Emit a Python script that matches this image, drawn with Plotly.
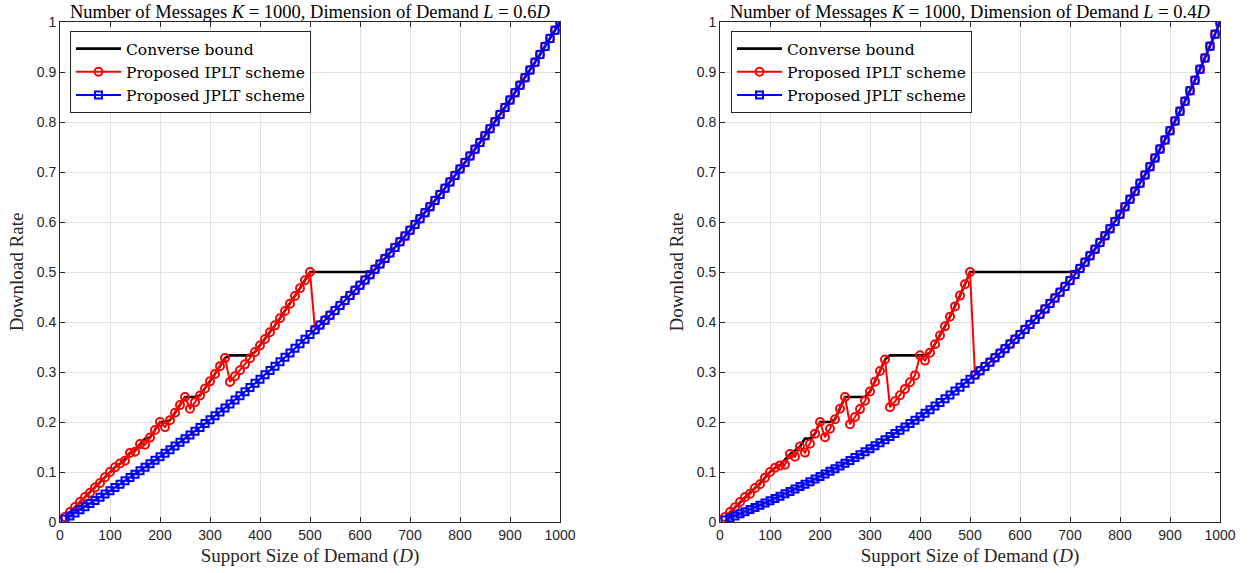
import plotly.graph_objects as go

# Support size of demand D
D = list(range(10, 1001, 10))

# ---------- L = 0.6D ----------
conv_06 = [
    0.0100, 0.0200, 0.0298, 0.0400, 0.0500, 0.0588, 0.0691, 0.0779, 0.0894, 0.1000,
    0.1093, 0.1169, 0.1250, 0.1382, 0.1429, 0.1558, 0.1667, 0.1688, 0.1839, 0.2000,
    0.2000, 0.2037, 0.2184, 0.2338, 0.2500, 0.2500, 0.2500, 0.2530, 0.2669, 0.2813,
    0.2962, 0.3117, 0.3278, 0.3333, 0.3333, 0.3333, 0.3333, 0.3333, 0.3401, 0.3529,
    0.3661, 0.3795, 0.3933, 0.4074, 0.4219, 0.4367, 0.4519, 0.4675, 0.4836, 0.5000,
    0.5000, 0.5000, 0.5000, 0.5000, 0.5000, 0.5000, 0.5000, 0.5000, 0.5000, 0.5000,
    0.5000, 0.5000, 0.5053, 0.5161, 0.5270, 0.5380, 0.5492, 0.5604, 0.5718, 0.5833,
    0.5950, 0.6067, 0.6186, 0.6307, 0.6429, 0.6552, 0.6676, 0.6802, 0.6930, 0.7059,
    0.7189, 0.7321, 0.7455, 0.7590, 0.7727, 0.7866, 0.8006, 0.8148, 0.8292, 0.8438,
    0.8585, 0.8734, 0.8885, 0.9038, 0.9194, 0.9351, 0.9510, 0.9671, 0.9834, 1.0000,
]
iplt_06 = [
    0.0100, 0.0200, 0.0298, 0.0400, 0.0500, 0.0584, 0.0691, 0.0779, 0.0894, 0.1000,
    0.1093, 0.1169, 0.1226, 0.1382, 0.1406, 0.1558, 0.1545, 0.1688, 0.1839, 0.2000,
    0.1898, 0.2037, 0.2184, 0.2338, 0.2500, 0.2267, 0.2397, 0.2530, 0.2669, 0.2813,
    0.2962, 0.3117, 0.3278, 0.2802, 0.2917, 0.3034, 0.3153, 0.3276, 0.3401, 0.3529,
    0.3661, 0.3795, 0.3933, 0.4074, 0.4219, 0.4367, 0.4519, 0.4675, 0.4836, 0.5000,
    0.3844, 0.3939, 0.4036, 0.4133, 0.4231, 0.4330, 0.4430, 0.4531, 0.4634, 0.4737,
    0.4841, 0.4947, 0.5053, 0.5161, 0.5270, 0.5380, 0.5492, 0.5604, 0.5718, 0.5833,
    0.5950, 0.6067, 0.6186, 0.6307, 0.6429, 0.6552, 0.6676, 0.6802, 0.6930, 0.7059,
    0.7189, 0.7321, 0.7455, 0.7590, 0.7727, 0.7866, 0.8006, 0.8148, 0.8292, 0.8438,
    0.8585, 0.8734, 0.8885, 0.9038, 0.9194, 0.9351, 0.9510, 0.9671, 0.9834, 1.0000,
]
jplt_06 = [
    0.0060, 0.0121, 0.0182, 0.0244, 0.0306, 0.0369, 0.0432, 0.0496, 0.0560, 0.0625,
    0.0690, 0.0756, 0.0823, 0.0890, 0.0957, 0.1026, 0.1094, 0.1164, 0.1234, 0.1304,
    0.1376, 0.1447, 0.1520, 0.1593, 0.1667, 0.1741, 0.1816, 0.1892, 0.1968, 0.2045,
    0.2123, 0.2202, 0.2281, 0.2361, 0.2442, 0.2523, 0.2606, 0.2689, 0.2773, 0.2857,
    0.2943, 0.3029, 0.3116, 0.3204, 0.3293, 0.3382, 0.3473, 0.3564, 0.3657, 0.3750,
    0.3844, 0.3939, 0.4036, 0.4133, 0.4231, 0.4330, 0.4430, 0.4531, 0.4634, 0.4737,
    0.4841, 0.4947, 0.5053, 0.5161, 0.5270, 0.5380, 0.5492, 0.5604, 0.5718, 0.5833,
    0.5950, 0.6067, 0.6186, 0.6307, 0.6429, 0.6552, 0.6676, 0.6802, 0.6930, 0.7059,
    0.7189, 0.7321, 0.7455, 0.7590, 0.7727, 0.7866, 0.8006, 0.8148, 0.8292, 0.8438,
    0.8585, 0.8734, 0.8885, 0.9038, 0.9194, 0.9351, 0.9510, 0.9671, 0.9834, 1.0000,
]

# ---------- L = 0.4D ----------
conv_04 = [
    0.0100, 0.0200, 0.0296, 0.0400, 0.0500, 0.0588, 0.0680, 0.0769, 0.0887, 0.1000,
    0.1084, 0.1132, 0.1250, 0.1359, 0.1429, 0.1509, 0.1667, 0.1667, 0.1767, 0.2000,
    0.2000, 0.2000, 0.2054, 0.2264, 0.2500, 0.2500, 0.2500, 0.2500, 0.2500, 0.2609,
    0.2805, 0.3019, 0.3251, 0.3333, 0.3333, 0.3333, 0.3333, 0.3333, 0.3333, 0.3333,
    0.3333, 0.3387, 0.3554, 0.3729, 0.3913, 0.4107, 0.4312, 0.4528, 0.4757, 0.5000,
    0.5000, 0.5000, 0.5000, 0.5000, 0.5000, 0.5000, 0.5000, 0.5000, 0.5000, 0.5000,
    0.5000, 0.5000, 0.5000, 0.5000, 0.5000, 0.5000, 0.5000, 0.5000, 0.5000, 0.5000,
    0.5000, 0.5070, 0.5196, 0.5324, 0.5455, 0.5588, 0.5725, 0.5865, 0.6008, 0.6154,
    0.6304, 0.6457, 0.6614, 0.6774, 0.6939, 0.7107, 0.7280, 0.7458, 0.7639, 0.7826,
    0.8018, 0.8214, 0.8416, 0.8624, 0.8837, 0.9057, 0.9282, 0.9515, 0.9754, 1.0000,
]
iplt_04 = [
    0.0100, 0.0200, 0.0296, 0.0400, 0.0500, 0.0566, 0.0680, 0.0755, 0.0887, 0.1000,
    0.1084, 0.1132, 0.1145, 0.1359, 0.1304, 0.1509, 0.1388, 0.1565, 0.1767, 0.2000,
    0.1694, 0.1864, 0.2054, 0.2264, 0.2500, 0.1955, 0.2101, 0.2258, 0.2427, 0.2609,
    0.2805, 0.3019, 0.3251, 0.2297, 0.2414, 0.2535, 0.2662, 0.2794, 0.2932, 0.3333,
    0.3228, 0.3387, 0.3554, 0.3729, 0.3913, 0.4107, 0.4312, 0.4528, 0.4757, 0.5000,
    0.2939, 0.3023, 0.3109, 0.3195, 0.3284, 0.3373, 0.3465, 0.3558, 0.3653, 0.3750,
    0.3849, 0.3949, 0.4051, 0.4156, 0.4262, 0.4371, 0.4482, 0.4595, 0.4710, 0.4828,
    0.4948, 0.5070, 0.5196, 0.5324, 0.5455, 0.5588, 0.5725, 0.5865, 0.6008, 0.6154,
    0.6304, 0.6457, 0.6614, 0.6774, 0.6939, 0.7107, 0.7280, 0.7458, 0.7639, 0.7826,
    0.8018, 0.8214, 0.8416, 0.8624, 0.8837, 0.9057, 0.9282, 0.9515, 0.9754, 1.0000,
]
jplt_04 = [
    0.0040, 0.0081, 0.0122, 0.0164, 0.0206, 0.0249, 0.0292, 0.0336, 0.0381, 0.0426,
    0.0471, 0.0517, 0.0564, 0.0611, 0.0659, 0.0708, 0.0757, 0.0807, 0.0858, 0.0909,
    0.0961, 0.1014, 0.1067, 0.1121, 0.1176, 0.1232, 0.1289, 0.1346, 0.1404, 0.1463,
    0.1523, 0.1584, 0.1646, 0.1709, 0.1772, 0.1837, 0.1902, 0.1969, 0.2037, 0.2105,
    0.2175, 0.2246, 0.2318, 0.2391, 0.2466, 0.2541, 0.2618, 0.2697, 0.2776, 0.2857,
    0.2939, 0.3023, 0.3109, 0.3195, 0.3284, 0.3373, 0.3465, 0.3558, 0.3653, 0.3750,
    0.3849, 0.3949, 0.4051, 0.4156, 0.4262, 0.4371, 0.4482, 0.4595, 0.4710, 0.4828,
    0.4948, 0.5070, 0.5196, 0.5324, 0.5455, 0.5588, 0.5725, 0.5865, 0.6008, 0.6154,
    0.6304, 0.6457, 0.6614, 0.6774, 0.6939, 0.7107, 0.7280, 0.7458, 0.7639, 0.7826,
    0.8018, 0.8214, 0.8416, 0.8624, 0.8837, 0.9057, 0.9282, 0.9515, 0.9754, 1.0000,
]

titles = [
    "Number of Messages <i>K</i> = 1000, Dimension of Demand <i>L</i> = 0.6<i>D</i>",
    "Number of Messages <i>K</i> = 1000, Dimension of Demand <i>L</i> = 0.4<i>D</i>",
]
names = ["Converse bound", "Proposed IPLT scheme", "Proposed JPLT scheme"]

SERIF = "Liberation Serif, DejaVu Serif, serif"
LEG_SERIF = "DejaVu Serif, Liberation Serif, serif"
SANS = "Liberation Sans, Arial, sans-serif"
AX = "#262626"

fig = go.Figure()

panels = [
    (conv_06, iplt_06, jplt_06, "x", "y", "legend"),
    (conv_04, iplt_04, jplt_04, "x2", "y2", "legend2"),
]
for conv, iplt, jplt, xa, ya, lg in panels:
    fig.add_trace(go.Scatter(
        x=D, y=conv, mode="lines", name=names[0], xaxis=xa, yaxis=ya, legend=lg,
        line=dict(color="black", width=2.6)))
    fig.add_trace(go.Scatter(
        x=D, y=iplt, mode="lines+markers", name=names[1], xaxis=xa, yaxis=ya, legend=lg,
        line=dict(color="#ff0000", width=2),
        marker=dict(symbol="circle-open", size=8, color="#ff0000", line=dict(width=2))))
    fig.add_trace(go.Scatter(
        x=D, y=jplt, mode="lines+markers", name=names[2], xaxis=xa, yaxis=ya, legend=lg,
        line=dict(color="#0000ff", width=2),
        marker=dict(symbol="square-open", size=7, color="#0000ff", line=dict(width=2))))

W, H = 1250, 573
ml, mr, mt, mb = 60, 30, 22, 51
pw = W - ml - mr
dom1 = [0, 500 / pw]
dom2 = [660 / pw, 1]

def xaxis(dom, anchor):
    return dict(
        domain=dom, anchor=anchor, range=[0, 1000], dtick=100, tick0=0,
        showline=True, linecolor=AX, linewidth=1, mirror="allticks",
        ticks="inside", ticklen=5, tickcolor=AX,
        showgrid=True, gridcolor="#e2e2e2", gridwidth=1, zeroline=False,
        tickfont=dict(family=SANS, size=14, color=AX),
        title=dict(text="Support Size of Demand (<i>D</i>)", standoff=6,
                   font=dict(family=SERIF, size=19, color=AX)),
        automargin=False,
    )

def yaxis(anchor):
    return dict(
        domain=[0, 1], anchor=anchor, range=[0, 1], dtick=0.1, tick0=0,
        showline=True, linecolor=AX, linewidth=1, mirror="allticks",
        ticks="inside", ticklen=5, tickcolor=AX,
        showgrid=True, gridcolor="#e2e2e2", gridwidth=1, zeroline=False,
        tickfont=dict(family=SANS, size=14, color=AX),
        title=dict(text="Download Rate", standoff=8,
                   font=dict(family=SERIF, size=19, color=AX)),
        automargin=False,
    )

legend_style = dict(
    bgcolor="white", bordercolor=AX, borderwidth=1,
    font=dict(family=LEG_SERIF, size=15.5, color="black"),
    xanchor="left", yanchor="top", itemwidth=45, tracegroupgap=0,
)

fig.update_layout(
    width=W, height=H,
    margin=dict(l=ml, r=mr, t=mt, b=mb),
    paper_bgcolor="white", plot_bgcolor="white",
    xaxis=xaxis(dom1, "y"), yaxis=yaxis("x"),
    xaxis2=xaxis(dom2, "y2"), yaxis2=yaxis("x2"),
    legend=dict(x=10 / pw, y=0.982, **legend_style),
    legend2=dict(x=11 / pw + dom2[0], y=0.982, **legend_style),
    annotations=[
        dict(text=titles[0], x=sum(dom1) / 2, y=1.0, xref="paper", yref="paper",
             xanchor="center", yanchor="bottom", yshift=-2, showarrow=False,
             font=dict(family=SERIF, size=18.5, color="black")),
        dict(text=titles[1], x=sum(dom2) / 2, y=1.0, xref="paper", yref="paper",
             xanchor="center", yanchor="bottom", yshift=-2, showarrow=False,
             font=dict(family=SERIF, size=18.5, color="black")),
    ],
)

# remove the page's default body margin so the figure sits at the window origin
fig.write_html("out.html", config={"displayModeBar": False},
               post_script="document.body.style.margin='0px';")
